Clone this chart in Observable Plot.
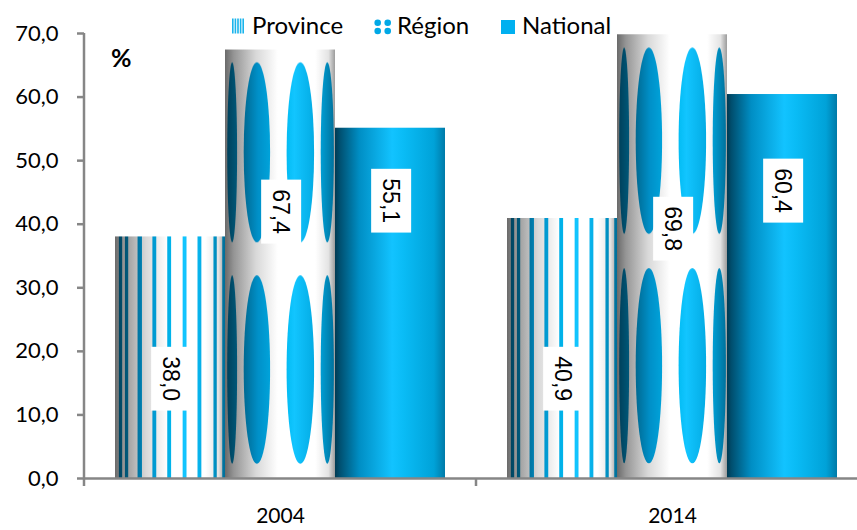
<!DOCTYPE html>
<html>
<head>
<meta charset="utf-8">
<script src="https://cdn.jsdelivr.net/npm/d3@7"></script>
<script src="https://cdn.jsdelivr.net/npm/@observablehq/plot@0.6"></script>
<style>
  html, body { margin: 0; padding: 0; background: #fff; }
  svg { display: block; }
</style>
</head>
<body>
<script>
// ---- data ----
const years = ["2004", "2014"];
const series = ["Province", "Région", "National"];
const province = [38.0, 40.9];
const region = [67.4, 69.8];
const national = [55.1, 60.4];
// where the value labels sit (in % units)
const provinceLabelAt = [15.7, 15.7];
const regionLabelAt = [42.0, 39.3];
const nationalLabelAt = [43.7, 45.3];
const yTicks = [0, 10, 20, 30, 40, 50, 60, 70];

const values = [province, region, national];
const labelAt = [provinceLabelAt, regionLabelAt, nationalLabelAt];
const rows = [];
years.forEach((yr, i) => series.forEach((s, j) => rows.push({year: yr, series: s, value: values[j][i], labelAt: labelAt[j][i]})));

const fmt = v => v.toFixed(1).replace(".", ",");
const AXIS = "#868686";

const plot = Plot.plot({
  width: 857,
  height: 530,
  marginLeft: 84,
  marginRight: 0,
  marginTop: 33,
  marginBottom: 52,
  style: {fontFamily: "Lato", background: "white", overflow: "visible"},
  fx: {domain: years, range: [84, 868], padding: 0, label: null},
  x: {domain: series, paddingInner: 0, paddingOuter: 0.27, axis: null},
  y: {domain: [0, 70], label: null},
  color: {domain: series, range: ["url(#pat-province)", "url(#pat-region)", "url(#grad-national)"]},
  marks: [
    Plot.barY(rows, {fx: "year", x: "series", y: "value", fill: "series"}),
    Plot.ruleY([0], {stroke: AXIS, strokeWidth: 2.5}),
    Plot.axisY({ticks: yTicks, tickFormat: fmt, tickSize: 7, tickPadding: 19, fontSize: 22,
                stroke: AXIS, strokeWidth: 2.5, fill: "black", label: null}),
    Plot.axisFx({anchor: "bottom", tickSize: 0, tickPadding: 30, fontSize: 21, fill: "black", label: null}),
    Plot.text(rows, {fx: "year", x: "series", y: "labelAt", text: d => fmt(d.value), rotate: 90,
                     fontSize: 23, fontFamily: "Liberation Sans", fill: "black"})
  ]
});

document.body.appendChild(plot);

const svg = d3.select(plot);
svg.insert("defs", ":first-child").html(`
  <linearGradient id="grey-cyl" x1="0" x2="1" y1="0" y2="0" gradientUnits="userSpaceOnUse">
    <stop offset="0" stop-color="#6a6a6a"/>
    <stop offset="0.08" stop-color="#959595"/>
    <stop offset="0.28" stop-color="#d8d8d8"/>
    <stop offset="0.48" stop-color="#ffffff"/>
    <stop offset="0.82" stop-color="#ffffff"/>
    <stop offset="0.94" stop-color="#e4e4e4"/>
    <stop offset="1" stop-color="#9c9c9c"/>
  </linearGradient>
  <linearGradient id="blue-cyl" x1="0" x2="1" y1="0" y2="0" gradientUnits="userSpaceOnUse">
    <stop offset="0" stop-color="#003c55"/>
    <stop offset="0.12" stop-color="#005a7c"/>
    <stop offset="0.3" stop-color="#0090c8"/>
    <stop offset="0.55" stop-color="#00bbf2"/>
    <stop offset="0.63" stop-color="#12c5ff"/>
    <stop offset="0.85" stop-color="#00a6de"/>
    <stop offset="1" stop-color="#006e98"/>
  </linearGradient>
  <linearGradient id="grad-national" x1="0" x2="1" y1="0" y2="0">
    <stop offset="0" stop-color="#003a52"/>
    <stop offset="0.04" stop-color="#004e6e"/>
    <stop offset="0.22" stop-color="#008ec4"/>
    <stop offset="0.52" stop-color="#12c3ff"/>
    <stop offset="0.62" stop-color="#0abcf6"/>
    <stop offset="0.9" stop-color="#00a2d8"/>
    <stop offset="1" stop-color="#007aa8"/>
  </linearGradient>
  <pattern id="pat-province" patternUnits="objectBoundingBox" patternContentUnits="objectBoundingBox" width="1" height="1">
    <rect x="0" y="0" width="1" height="1" fill="url(#grey-cyl)"/>
    <g fill="url(#blue-cyl)">
      <rect x="0.035" y="0" width="0.03" height="1"/>
      <rect x="0.09" y="0" width="0.03" height="1"/>
      <rect x="0.205" y="0" width="0.04" height="1"/>
      <rect x="0.34" y="0" width="0.035" height="1"/>
      <rect x="0.475" y="0" width="0.035" height="1"/>
      <rect x="0.615" y="0" width="0.035" height="1"/>
      <rect x="0.75" y="0" width="0.035" height="1"/>
      <rect x="0.895" y="0" width="0.03" height="1"/>
      <rect x="0.975" y="0" width="0.025" height="1"/>
    </g>
  </pattern>
  <pattern id="pat-region" patternUnits="objectBoundingBox" patternContentUnits="objectBoundingBox" width="1" height="1">
    <rect x="0" y="0" width="1" height="1" fill="url(#grey-cyl)"/>
    <g fill="url(#blue-cyl)">
      <ellipse cx="0.065" cy="0.24" rx="0.045" ry="0.21"/>
      <ellipse cx="0.29" cy="0.24" rx="0.12" ry="0.21"/>
      <ellipse cx="0.685" cy="0.24" rx="0.125" ry="0.21"/>
      <ellipse cx="0.93" cy="0.24" rx="0.06" ry="0.21"/>
      <ellipse cx="0.065" cy="0.747" rx="0.045" ry="0.22"/>
      <ellipse cx="0.29" cy="0.747" rx="0.12" ry="0.22"/>
      <ellipse cx="0.685" cy="0.747" rx="0.125" ry="0.22"/>
      <ellipse cx="0.93" cy="0.747" rx="0.06" ry="0.22"/>
    </g>
  </pattern>
`);

// white boxes behind value labels
svg.selectAll('g[aria-label="text"] text').each(function () {
  const b = this.getBBox();
  d3.select(this.parentNode).insert("rect", () => this)
    .attr("x", b.x - 9.5).attr("y", b.y - 7)
    .attr("width", b.width + 19).attr("height", b.height + 14)
    .attr("fill", "white")
    .attr("transform", this.getAttribute("transform"));
});

// axis lines and category boundary ticks from the scales
const fx = plot.scale("fx");
const ys = plot.scale("y");
const y0 = ys.apply(0), yTop = ys.apply(70);
const xLeft = fx.apply(years[0]);
svg.append("line").attr("x1", xLeft).attr("x2", xLeft).attr("y1", yTop).attr("y2", y0 + 1)
  .attr("stroke", AXIS).attr("stroke-width", 2.5);
const bounds = years.map(v => fx.apply(v)).concat([fx.apply(years[years.length - 1]) + fx.bandwidth]);
bounds.forEach(b => svg.append("line").attr("x1", b).attr("x2", b).attr("y1", y0).attr("y2", y0 + 8)
  .attr("stroke", AXIS).attr("stroke-width", 2.5));

// "%" unit
svg.append("text").attr("x", 111).attr("y", 67).attr("text-anchor", "start").attr("font-family", "Lato")
  .attr("font-weight", "bold").attr("font-size", 25).attr("fill", "black").text("%");

// legend
const lg = svg.append("g").attr("font-family", "Lato").attr("font-size", 24).attr("fill", "black")
  .attr("text-anchor", "start");
[232, 234.6, 237.2, 239.8, 242.4].forEach(x => lg.append("rect").attr("x", x).attr("y", 18.5).attr("width", 1.6).attr("height", 15).attr("fill", "#1ab4ec"));
[[377.7, 22.7], [387.7, 22.7], [377.7, 31], [387.7, 31]].forEach(([cx, cy]) => lg.append("circle").attr("cx", cx).attr("cy", cy).attr("r", 3.3).attr("fill", "#00a8e6"));
lg.append("rect").attr("x", 501).attr("y", 20).attr("width", 14).attr("height", 14).attr("fill", "#00b0f0");
lg.append("text").attr("x", 252).attr("y", 34).text(series[0]);
lg.append("text").attr("x", 397).attr("y", 34).text(series[1]);
lg.append("text").attr("x", 522).attr("y", 34).text(series[2]);
</script>
</body>
</html>
